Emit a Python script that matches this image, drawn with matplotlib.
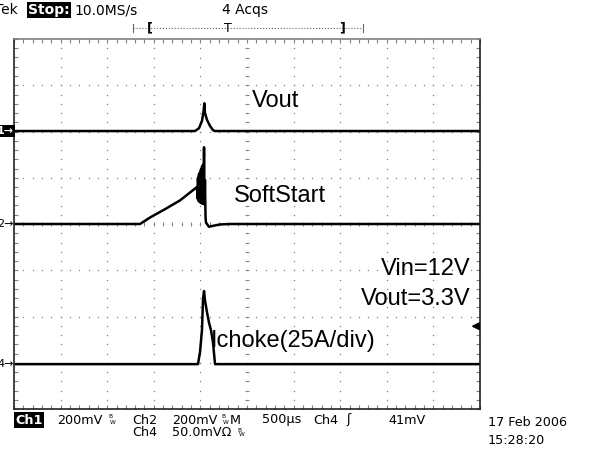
import matplotlib.pyplot as plt
import numpy as np
from matplotlib.ticker import MultipleLocator

# time axis: 500 us/div, 10 div on screen
t_us_ch1 = [0, 1942, 1985, 2017, 2033, 2042, 2049, 2071, 2103, 2135, 2157, 5000]
ch1_div = [0, 0, 0.06, 0.22, 0.41, 0.60, 0.39, 0.24, 0.11, 0.02, 0, 0]

t_us_ch2 = [0, 1352, 1459, 1620, 1781, 1964, 1969, 1974, 1980, 1985, 1990, 1996, 2001,
            2006, 2012, 2017, 2022, 2028, 2033, 2039, 2044, 2049, 2055, 2060, 2092,
            2135, 2210, 2318, 5000]
ch2_div = [0, 0, 0.14, 0.32, 0.51, 0.80, 0.55, 1.00, 0.50, 1.08, 0.48, 1.12, 0.46,
           1.18, 0.45, 1.24, 0.44, 1.28, 0.45, 1.66, 0.42, 0.95, 0.15, 0.03, -0.06,
           -0.04, -0.01, 0, 0]

t_us_ch4 = [0, 1974, 1996, 2017, 2028, 2039, 2049, 2071, 2092, 2114, 2135, 2157, 5000]
ch4_div = [0, 0, 0.26, 0.74, 1.40, 1.58, 1.38, 1.12, 0.90, 0.73, 0.47, 0, 0]

ch_offsets = {'1': 2.01, '2': 0.0, '4': -3.03}
trig_mv, ch4_mv_div = 41, 50.0

W, H = 589, 454
fig = plt.figure(figsize=(W / 100, H / 100), dpi=100)
ax = fig.add_axes([14 / W, 45 / H, 466 / W, 370 / H])
ax.set_xlim(0, 5000)
ax.set_ylim(-4, 4)

def px(x, y):
    return x / W, 1 - y / H

# graticule dots
gc = '#808080'
for k in range(1, 10):
    yy = np.arange(-19, 20) * 0.2
    ax.plot(np.full_like(yy, 500 * k), yy, ls='none', marker='s', ms=0.9, mew=0, color=gc)
for k in range(-3, 4):
    xx = np.arange(1, 50) * 100
    ax.plot(xx, np.full_like(xx, k, dtype=float), ls='none', marker='s', ms=0.9, mew=0, color=gc)
# centre cross ticks
ax.plot(np.arange(1, 50) * 100, np.zeros(49), ls='none', marker='|', ms=3.5, mew=0.7, color=gc)
ax.plot(np.full(39, 2500), np.arange(-19, 20) * 0.2, ls='none', marker='_', ms=3.5, mew=0.7, color=gc)

ax.xaxis.set_major_locator(MultipleLocator(100))
ax.yaxis.set_major_locator(MultipleLocator(0.2))
ax.tick_params(direction='in', length=3, width=0.8, color=gc, top=True, right=True,
               labelbottom=False, labelleft=False)
for s in ax.spines.values():
    s.set_linewidth(1.2)
    s.set_color('#222222')
ax.spines['top'].set_color(gc)

# traces
lw = 1.8
ax.plot(t_us_ch1, np.array(ch1_div) + ch_offsets['1'], color='black', lw=lw)
ax.plot(t_us_ch2, np.array(ch2_div) + ch_offsets['2'], color='black', lw=lw)
ax.plot(t_us_ch4, np.array(ch4_div) + ch_offsets['4'], color='black', lw=lw)

# labels on screen
lab = dict(family='Liberation Sans', fontsize=17, color='black')
ax.text(2554, 2.66, 'Vout', va='center', ha='left', **lab)
ax.text(2361, 0.60, 'SoftStart', va='center', ha='left', **lab)
ax.text(4893, -0.98, 'Vin=12V', va='center', ha='right', **lab)
ax.text(4893, -1.62, 'Vout=3.3V', va='center', ha='right', **lab)
ax.text(2114, -2.52, 'Ichoke(25A/div)', va='center', ha='left', **lab)

# channel ground markers
yt = ax.get_yaxis_transform()
ax.text(-0.001, ch_offsets['1'], '1\u2192', transform=yt, ha='right', va='center', fontsize=8,
        color='white', fontweight='bold', clip_on=False,
        bbox=dict(boxstyle='square,pad=0.12', fc='black', ec='none'))
for ch in ['2', '4']:
    ax.text(-0.001, ch_offsets[ch], ch + '\u2192', transform=yt, ha='right', va='center',
            fontsize=8, color='black', clip_on=False)

# trigger level marker
trig_y = ch_offsets['4'] + trig_mv / ch4_mv_div
ax.annotate('', xy=(0.975, trig_y), xytext=(1.0, trig_y), xycoords=yt, textcoords=yt,
            arrowprops=dict(arrowstyle='-|>', color='black', lw=1.5, mutation_scale=10))

# header
hf = dict(family='DejaVu Sans', fontsize=10, va='center')
fig.text(*px(-5, 10), 'Tek', ha='left', **hf)
fig.text(*px(28, 10), 'Stop:', ha='left', color='white', fontweight='bold',
         bbox=dict(boxstyle='square,pad=0.1', fc='black', ec='none'), **hf)
fig.text(*px(74, 10), '10.0MS/s', ha='left', **hf)
fig.text(*px(222, 10), '4 Acqs', ha='left', **hf)
bar = fig.add_axes([0, 0, 1, 1], facecolor='none')
bar.set_xlim(0, W)
bar.set_ylim(H, 0)
bar.axis('off')
bar.plot([133, 363], [28, 28], ls=':', lw=0.8, color='#666666')
bar.plot([133, 133], [24, 32], lw=0.8, color='#666666')
bar.plot([363, 363], [24, 32], lw=0.8, color='#666666')
bar.text(150, 28, '[', ha='center', va='center', fontsize=9, fontweight='bold')
bar.text(342, 28, ']', ha='center', va='center', fontsize=9, fontweight='bold')
bar.text(228, 28, 'T', ha='center', va='center', fontsize=9)

# bottom status line
bf = dict(family='DejaVu Sans', fontsize=9.2, va='center', ha='left')
sf = dict(family='DejaVu Sans', fontsize=4.2, va='center', ha='left')
fig.text(*px(15, 420), 'Ch1', color='white', fontweight='bold',
         bbox=dict(boxstyle='square,pad=0.1', fc='black', ec='none'), **bf)
fig.text(*px(57, 420), '200mV', **bf)
fig.text(*px(132, 420), 'Ch2', **bf)
fig.text(*px(172, 420), '200mV', **bf)
fig.text(*px(230, 420), 'M', **bf)
fig.text(*px(262, 420), '500\u00b5s', **bf)
fig.text(*px(313, 420), 'Ch4', **bf)
fig.text(*px(346, 420), '\u0283', **bf)
fig.text(*px(388, 420), '41mV', **bf)
fig.text(*px(132, 433), 'Ch4', **bf)
fig.text(*px(172, 433), '50.0mV\u03a9', **bf)
for x, y in [(108, 420), (221, 420), (237, 433)]:
    fig.text(*px(x, y - 3), 'B', **sf)
    fig.text(*px(x + 2, y + 2), 'W', **sf)
fig.text(*px(488, 423), '17 Feb 2006', **bf)
fig.text(*px(488, 441), '15:28:20', **bf)

fig.savefig('out.png', dpi=100)
